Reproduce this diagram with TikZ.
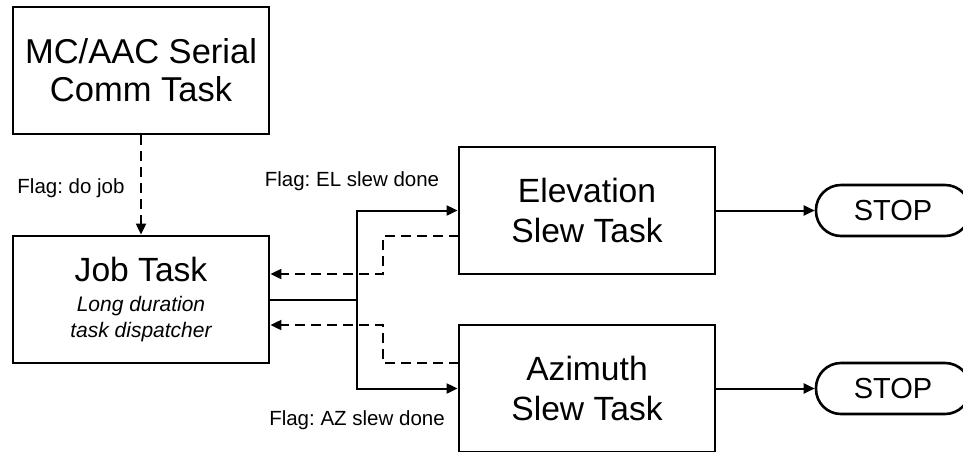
\documentclass[tikz,border=0pt]{standalone}
\usepackage{fontspec}
\setmainfont{Liberation Sans}
\usetikzlibrary{arrows.meta}
\frenchspacing
\newcommand\subline{\fontsize{21}{25}\selectfont\itshape}
\begin{document}
\begin{tikzpicture}[x=1pt,y=-1pt,
  task/.style={draw,line width=2.8pt,minimum width=256pt,minimum height=127pt,
    inner sep=0pt,align=center,font=\fontsize{33.6}{40}\selectfont},
  endcap/.style={draw,line width=2.6pt,rounded corners=25pt,minimum width=154pt,
    minimum height=51pt,inner sep=0pt,font=\fontsize{29}{34}\selectfont},
  link/.style={line width=2pt,-{Triangle[length=11pt,width=10pt]}},
  flag/.style={link,dash pattern=on 10pt off 6pt},
  note/.style={inner sep=0pt,font=\fontsize{20.5}{24}\selectfont}]
\useasboundingbox (0,0) rectangle (963,451);
\clip (0,0) rectangle (963,451);

% task boxes
\node[task,font=\fontsize{34.5}{38}\selectfont] (mc) at (141,70.5) {MC/AAC Serial\\Comm Task};
\node[task] (job) at (141,299.5) {Job Task\\[-10pt]
  \subline Long duration\\[-14pt]\subline task dispatcher};
\node[task] (el) at (587,210.5) {Elevation\\Slew Task};
\node[task] (az) at (587,388.5) {Azimuth\\Slew Task};

% terminators
\node[endcap] (stop1) at (893,210.5) {STOP};
\node[endcap] (stop2) at (893,388.5) {STOP};

% flag labels
\node[note] (ldo) at (71,188) {Flag: do job};
\node[note] (lel) at (352,181) {Flag: EL slew done};
\node[note] (laz) at (357,420) {Flag: AZ slew done};

% helper points for the routed connectors
\coordinate (split) at (357,300);
\coordinate (elout) at (459,236);
\coordinate (elbend) at (383,274);
\coordinate (azout) at (459,363);
\coordinate (azbend) at (383,325);

% dispatch from job task to both slew tasks
\draw[flag] (mc.south) -- (job.north);
\draw[line width=2pt] (job.east |- split) -- (split);
\draw[link] (split) |- (el.west);
\draw[link] (split) |- (az.west);

% completion flags back to job task
\draw[flag] (elout) -| (elbend) -- (job.east |- elbend);
\draw[flag] (azout) -| (azbend) -- (job.east |- azbend);

% slew tasks terminate
\draw[link] (el.east) -- (stop1.west);
\draw[link] (az.east) -- (stop2.west);
\end{tikzpicture}
\end{document}
